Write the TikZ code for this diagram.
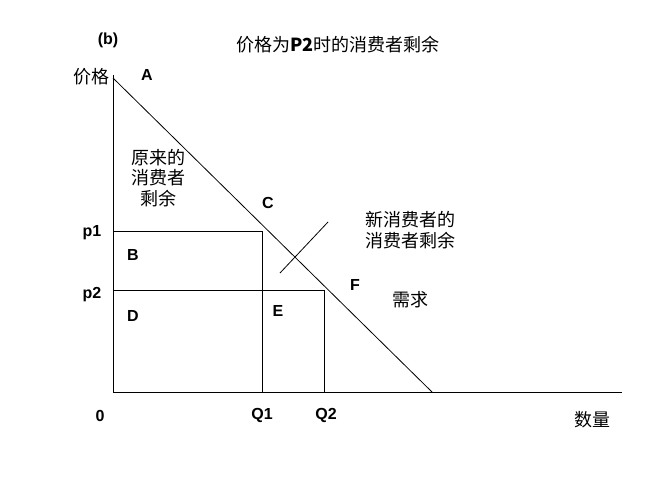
\documentclass[tikz,border=0pt]{standalone}
\usepackage{fontspec}
\setmainfont{Liberation Sans}
\newfontfamily\cjk{Noto Sans CJK SC}
\begin{document}
\begin{tikzpicture}[x=0.75pt,y=-0.75pt,
  lbl/.style={font=\bfseries\fontsize{12}{14}\selectfont,inner sep=0pt},
  zh/.style={font=\cjk\fontsize{13.5}{15.5}\selectfont,inner sep=0pt,align=center},
  ln/.style={draw=black,line width=0.6pt}]
\useasboundingbox[fill=white] (0,0) rectangle (667,481);
\coordinate (o) at (113,392);
\coordinate (ytop) at (113,75);
\coordinate (xend) at (622,392);
\coordinate (dtop) at (113,78);
\coordinate (dend) at (432,392);
\coordinate (c1) at (262,231);
\coordinate (c2) at (324,290);
\coordinate (s1) at (280,273);
\coordinate (s2) at (328,222);
\draw[ln] (ytop) -- (o) -- (xend);
\draw[ln] (dtop) -- (dend);
\draw[ln] (113,231) -- (c1) -- (262,392);
\draw[ln] (113,290) -- (c2) -- (324,392);
\draw[ln] (s1) -- (s2);
\node[lbl] (b) at (108,40) {(b)};
\node[zh] (title) at (338,45) {价格为\textbf{P2}时的消费者剩余};
\node[zh] (price) at (91,77) {价格};
\node[lbl] (A) at (147,75) {A};
\node[zh] (orig) at (158,178) {原来的\\消费者\\剩余};
\node[lbl] (C) at (268,203) {C};
\node[lbl] (p1) at (92,233) {p1};
\node[lbl] (B) at (133,255) {B};
\node[lbl] (p2) at (92,295) {p2};
\node[lbl] (D) at (133,316) {D};
\node[lbl] (E) at (278,311) {E};
\node[lbl] (F) at (355,285) {F};
\node[zh] (dem) at (410,300) {需求};
\node[zh] (new) at (410,230) {新消费者的\\消费者剩余};
\node[lbl] (zero) at (100,416) {0};
\node[lbl] (q1) at (262,415) {Q1};
\node[lbl] (q2) at (326,415) {Q2};
\node[zh] (qty) at (592,420) {数量};
\end{tikzpicture}
\end{document}
